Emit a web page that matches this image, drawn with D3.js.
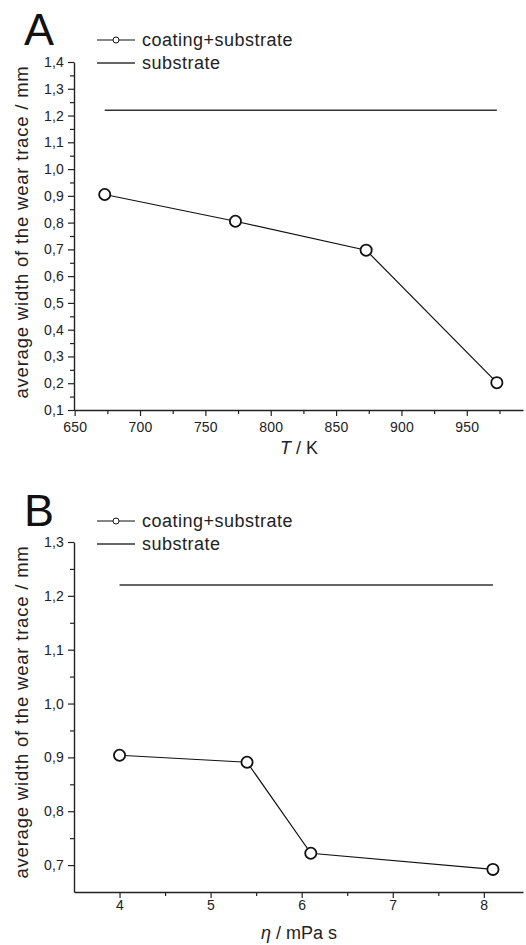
<!DOCTYPE html>
<html>
<head>
<meta charset="utf-8">
<script src="https://cdn.jsdelivr.net/npm/d3@7"></script>
<style>
  body { margin: 0; background: #fff; }
  svg { display: block; font-family: "Liberation Sans", Arial, sans-serif; }
  .domain { stroke: #222; stroke-width: 1.4; }
  .tick line { stroke: #222; stroke-width: 1.2; }
  .tick text { fill: #222; font-size: 14px; letter-spacing: 0.2px; }
</style>
</head>
<body>
<div id="chart"></div>
<script>
// panel A: width of wear trace vs. temperature
const tempK = [673, 773, 873, 973];
const widthVsTemp = [0.905, 0.805, 0.697, 0.202];
const substrateTemp = [673, 973];
const substrateWidthA = 1.22;
const tempMajorTicks = [650, 700, 750, 800, 850, 900, 950];
const tempMinorTicks = [675, 725, 775, 825, 875, 925, 975];
const widthMajorTicksA = [0.1, 0.2, 0.3, 0.4, 0.5, 0.6, 0.7, 0.8, 0.9, 1.0, 1.1, 1.2, 1.3, 1.4];
const widthMinorTicksA = [0.15, 0.25, 0.35, 0.45, 0.55, 0.65, 0.75, 0.85, 0.95, 1.05, 1.15, 1.25, 1.35];

// panel B: width of wear trace vs. viscosity
const viscosity = [4.0, 5.4, 6.1, 8.1];
const widthVsVisc = [0.904, 0.891, 0.722, 0.692];
const substrateVisc = [4.0, 8.1];
const substrateWidthB = 1.22;
const viscMajorTicks = [4, 5, 6, 7, 8];
const viscMinorTicks = [4.5, 5.5, 6.5, 7.5];
const widthMajorTicksB = [0.7, 0.8, 0.9, 1.0, 1.1, 1.2, 1.3];
const widthMinorTicksB = [0.75, 0.85, 0.95, 1.05, 1.15, 1.25];

const legendLabels = ['coating+substrate', 'substrate'];
const yTitle = 'average width of the wear trace / mm';

const width = 526, height = 945;
const comma = d3.formatLocale({ decimal: ',', thousands: '.', grouping: [3], currency: ['', ''] });
const fmt1 = comma.format('.1f');

const svg = d3.select('#chart')
  .append('svg')
  .attr('width', width)
  .attr('height', height);

function drawPanel(p) {
  const g = svg.append('g');
  const x = d3.scaleLinear().domain(p.xDomain).range([74, 523]);
  const y = d3.scaleLinear().domain(p.yDomain).range([p.bottom, p.top]);

  // minor ticks first, then the major axis on top
  g.append('g')
    .attr('transform', `translate(0,${p.bottom})`)
    .call(d3.axisBottom(x).tickValues(p.xMinor).tickSize(4).tickFormat(''))
    .select('.domain').remove();
  g.append('g')
    .attr('transform', `translate(0,${p.bottom})`)
    .call(d3.axisBottom(x).tickValues(p.xMajor).tickSize(6).tickSizeOuter(0).tickPadding(p.xPad).tickFormat(d3.format('d')));

  g.append('g')
    .attr('transform', 'translate(74,0)')
    .call(d3.axisLeft(y).tickValues(p.yMinor).tickSize(4).tickFormat(''))
    .select('.domain').remove();
  g.append('g')
    .attr('transform', 'translate(74,0)')
    .call(d3.axisLeft(y).tickValues(p.yMajor).tickSize(6).tickSizeOuter(0).tickPadding(4).tickFormat(fmt1));

  // substrate reference line
  g.append('line')
    .attr('x1', x(p.subX[0]))
    .attr('x2', x(p.subX[1]))
    .attr('y1', y(p.subY))
    .attr('y2', y(p.subY))
    .attr('stroke', '#333')
    .attr('stroke-width', 1.5);

  const pts = p.xs.map((v, i) => [v, p.ys[i]]);
  g.append('path')
    .datum(pts)
    .attr('fill', 'none')
    .attr('stroke', '#111')
    .attr('stroke-width', 1.2)
    .attr('d', d3.line().x(d => x(d[0])).y(d => y(d[1])));

  g.selectAll('circle.pt')
    .data(pts)
    .join('circle')
    .attr('class', 'pt')
    .attr('cx', d => x(d[0]))
    .attr('cy', d => y(d[1]))
    .attr('r', 5.6)
    .attr('fill', '#fff')
    .attr('stroke', '#111')
    .attr('stroke-width', 1.8);

  // panel letter
  g.append('text')
    .attr('x', 24)
    .attr('y', p.letterY)
    .style('font-size', '45px')
    .style('fill', '#111')
    .text(p.letter);

  // legend
  const ly = p.legendY;
  g.append('line')
    .attr('x1', 97).attr('x2', 135)
    .attr('y1', ly).attr('y2', ly)
    .attr('stroke', '#111').attr('stroke-width', 1.2);
  g.append('circle')
    .attr('cx', 116).attr('cy', ly).attr('r', 3)
    .attr('fill', '#fff').attr('stroke', '#111').attr('stroke-width', 1);
  g.append('line')
    .attr('x1', 97).attr('x2', 135)
    .attr('y1', ly + 23).attr('y2', ly + 23)
    .attr('stroke', '#333').attr('stroke-width', 1.5);
  legendLabels.forEach((t, i) => {
    g.append('text')
      .attr('x', 142)
      .attr('y', ly + 6 + i * 23)
      .style('font-size', '18px')
      .style('letter-spacing', '0.5px')
      .style('fill', '#222')
      .text(t);
  });

  // y title
  g.append('text')
    .attr('transform', `translate(28,${p.yTitleY}) rotate(-90)`)
    .attr('text-anchor', 'middle')
    .style('font-size', '18.5px')
    .style('letter-spacing', '0.8px')
    .style('fill', '#222')
    .text(yTitle);

  // x title
  const xt = g.append('text')
    .attr('x', 299)
    .attr('y', p.xTitleY)
    .attr('text-anchor', 'middle')
    .style('font-size', '18px')
    .style('fill', '#222');
  xt.append('tspan').style('font-style', 'italic').text(p.xVar);
  xt.append('tspan').text(p.xUnit);
}

drawPanel({
  xDomain: [649.5, 993], yDomain: [0.1, 1.4], top: 62, bottom: 410,
  xMajor: tempMajorTicks, xMinor: tempMinorTicks,
  yMajor: widthMajorTicksA, yMinor: widthMinorTicksA,
  xs: tempK, ys: widthVsTemp, subX: substrateTemp, subY: substrateWidthA,
  letter: 'A', letterY: 45, legendY: 40, yTitleY: 232, xTitleY: 454, xPad: 6,
  xVar: 'T', xUnit: ' / K'
});

drawPanel({
  xDomain: [3.5, 8.43], yDomain: [0.65, 1.3], top: 542, bottom: 892,
  xMajor: viscMajorTicks, xMinor: viscMinorTicks,
  yMajor: widthMajorTicksB, yMinor: widthMinorTicksB,
  xs: viscosity, ys: widthVsVisc, subX: substrateVisc, subY: substrateWidthB,
  letter: 'B', letterY: 526, legendY: 521, yTitleY: 712, xTitleY: 939, xPad: 2,
  xVar: 'η', xUnit: ' / mPa s'
});
</script>
</body>
</html>
